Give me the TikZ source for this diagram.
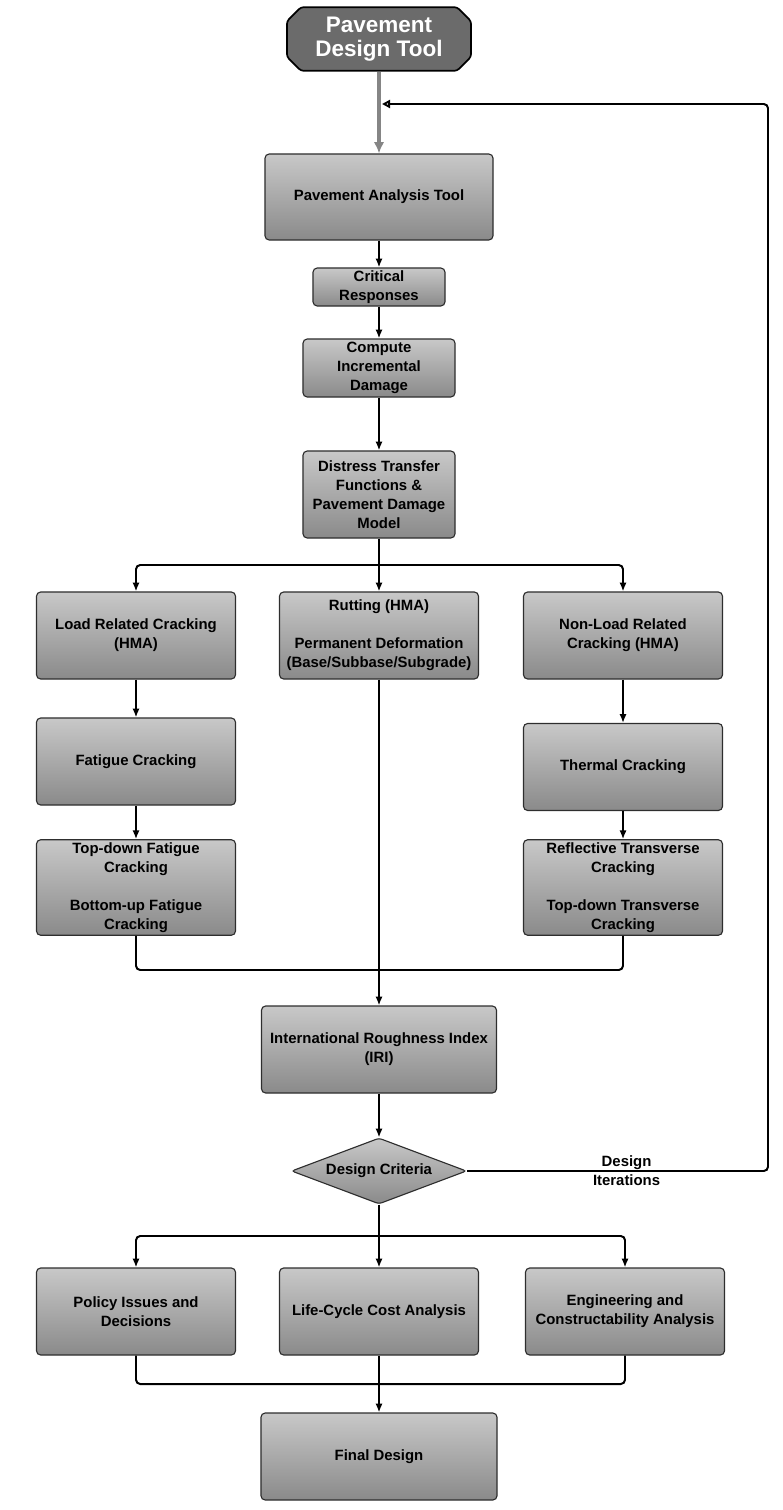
\documentclass[tikz,border=0pt]{standalone}
\usepackage{fontspec}
\setmainfont{Liberation Sans}
\usetikzlibrary{arrows.meta,positioning,shapes.geometric,shapes.misc}
\definecolor{boxtop}{HTML}{C8C8C8}
\definecolor{boxbot}{HTML}{8A8A8A}
\definecolor{titlefill}{HTML}{6B6B6B}
\definecolor{edgegray}{HTML}{2E2E2E}
\definecolor{startgray}{HTML}{858585}
\newcommand{\gap}{\\[13.5pt]}

\begin{document}
\begin{tikzpicture}[
  x=0.025cm, y=-0.025cm,
  font=\fontsize{10.6}{13.5}\selectfont\bfseries,
  proc/.style={draw=edgegray, line width=0.8pt, rounded corners=3pt, top color=boxtop, bottom color=boxbot, align=center, inner sep=2pt, minimum width=4.975cm, minimum height=2.175cm},
  title/.style={chamfered rectangle, chamfered rectangle xsep=0.15cm, chamfered rectangle ysep=0.2cm, draw=black, line width=1.2pt, rounded corners=2pt, fill=titlefill, text=white, align=center, minimum width=4.6cm, minimum height=1.35cm, inner sep=1pt, font=\fontsize{16}{17.5}\selectfont\bfseries},
  crit/.style={diamond, aspect=2.65, draw=edgegray, line width=0.8pt, rounded corners=2pt, top color=boxtop, bottom color=boxbot, minimum width=4.375cm, minimum height=1.65cm, inner sep=0pt},
  conn/.style={line width=1.4pt, rounded corners=3pt},
  flow/.style={conn, -{Latex[length=2.2mm,width=1.8mm]}},
  start/.style={line width=2.8pt, draw=startgray, -{Latex[length=2.8mm,width=2.6mm]}},
  back/.style={line width=1.4pt, rounded corners=3pt, -{Triangle[open,length=2mm,width=2mm]}},
  lab/.style={align=center, inner sep=1pt}
]
\useasboundingbox (0,0) rectangle (782,1510);

\node[title] (pdt) at (379,39) {Pavement\\Design Tool};
\node[proc, minimum width=5.7cm, minimum height=2.15cm] (pat) at (379,197) {Pavement Analysis Tool};
\node[proc, minimum width=3.3cm, minimum height=0.95cm, inner sep=0pt] (cr) at (379,287) {Critical\\Responses};
\node[proc, minimum width=3.8cm, minimum height=1.45cm, inner sep=0pt] (cid) at (379,368) {Compute\\Incremental\\Damage};
\node[proc, minimum width=3.8cm] (dtf) at (379,494.5) {Distress Transfer\\Functions \&\\Pavement Damage\\Model};

% distress branches
\node[proc] (lrc) at (136,635.5) {Load Related Cracking\\(HMA)};
\node[proc] (rut) at (379,635.5) {Rutting (HMA)\gap Permanent Deformation\\(Base/Subbase/Subgrade)};
\node[proc] (nlr) at (623,635.5) {Non-Load Related\\Cracking (HMA)};
\node[proc] (fc) at (136,761.5) {Fatigue Cracking};
\node[proc] (tc) at (623,767) {Thermal Cracking};
\node[proc, minimum height=2.375cm] (tdf) at (136,887.5) {Top-down Fatigue\\Cracking\gap Bottom-up Fatigue\\Cracking};
\node[proc, minimum height=2.375cm] (rtc) at (623,887.5) {Reflective Transverse\\Cracking\gap Top-down Transverse\\Cracking};

\node[proc, minimum width=5.875cm] (iri) at (379,1049.5) {International Roughness Index\\(IRI)};
\node[crit] (dc) at (379,1171) {Design Criteria};

% outcomes
\node[proc] (pol) at (136,1311.5) {Policy Issues and\\Decisions};
\node[proc] (lcc) at (379,1311.5) {Life-Cycle Cost Analysis};
\node[proc] (eca) at (625,1311.5) {Engineering and\\Constructability Analysis};
\node[proc, minimum width=5.9cm] (fin) at (379,1456.5) {Final Design};

\coordinate (split1) at (379,565);
\coordinate (merge1) at (379,970);
\coordinate (split2) at (379,1236);
\coordinate (merge2) at (379,1384);
\coordinate (fb) at (382,104);

\draw[start] (pdt.south) -- (pat.north);
\foreach \a/\b in {pat/cr,cr/cid,cid/dtf,lrc/fc,fc/tdf,nlr/tc,tc/rtc,iri/dc}{
  \draw[flow] (\a.south) -- (\b.north);
}
\draw[conn] (dtf.south) -- (split1);
\foreach \n in {lrc,rut,nlr}{\draw[flow] (split1) -| (\n.north);}
\draw[conn] (tdf.south) |- (merge1) -| (rtc.south);
\draw[flow] (rut.south) -- (iri.north);

\draw[conn] (dc.south) -- (split2);
\foreach \n in {pol,lcc,eca}{\draw[flow] (split2) -| (\n.north);}
\draw[conn] (pol.south) |- (merge2) -| (eca.south);
\draw[flow] (lcc.south) -- (fin.north);

\draw[back] (dc.east) -- node[lab, pos=0.53]{Design\\Iterations} (768,1171) |- (fb);
\end{tikzpicture}
\end{document}
